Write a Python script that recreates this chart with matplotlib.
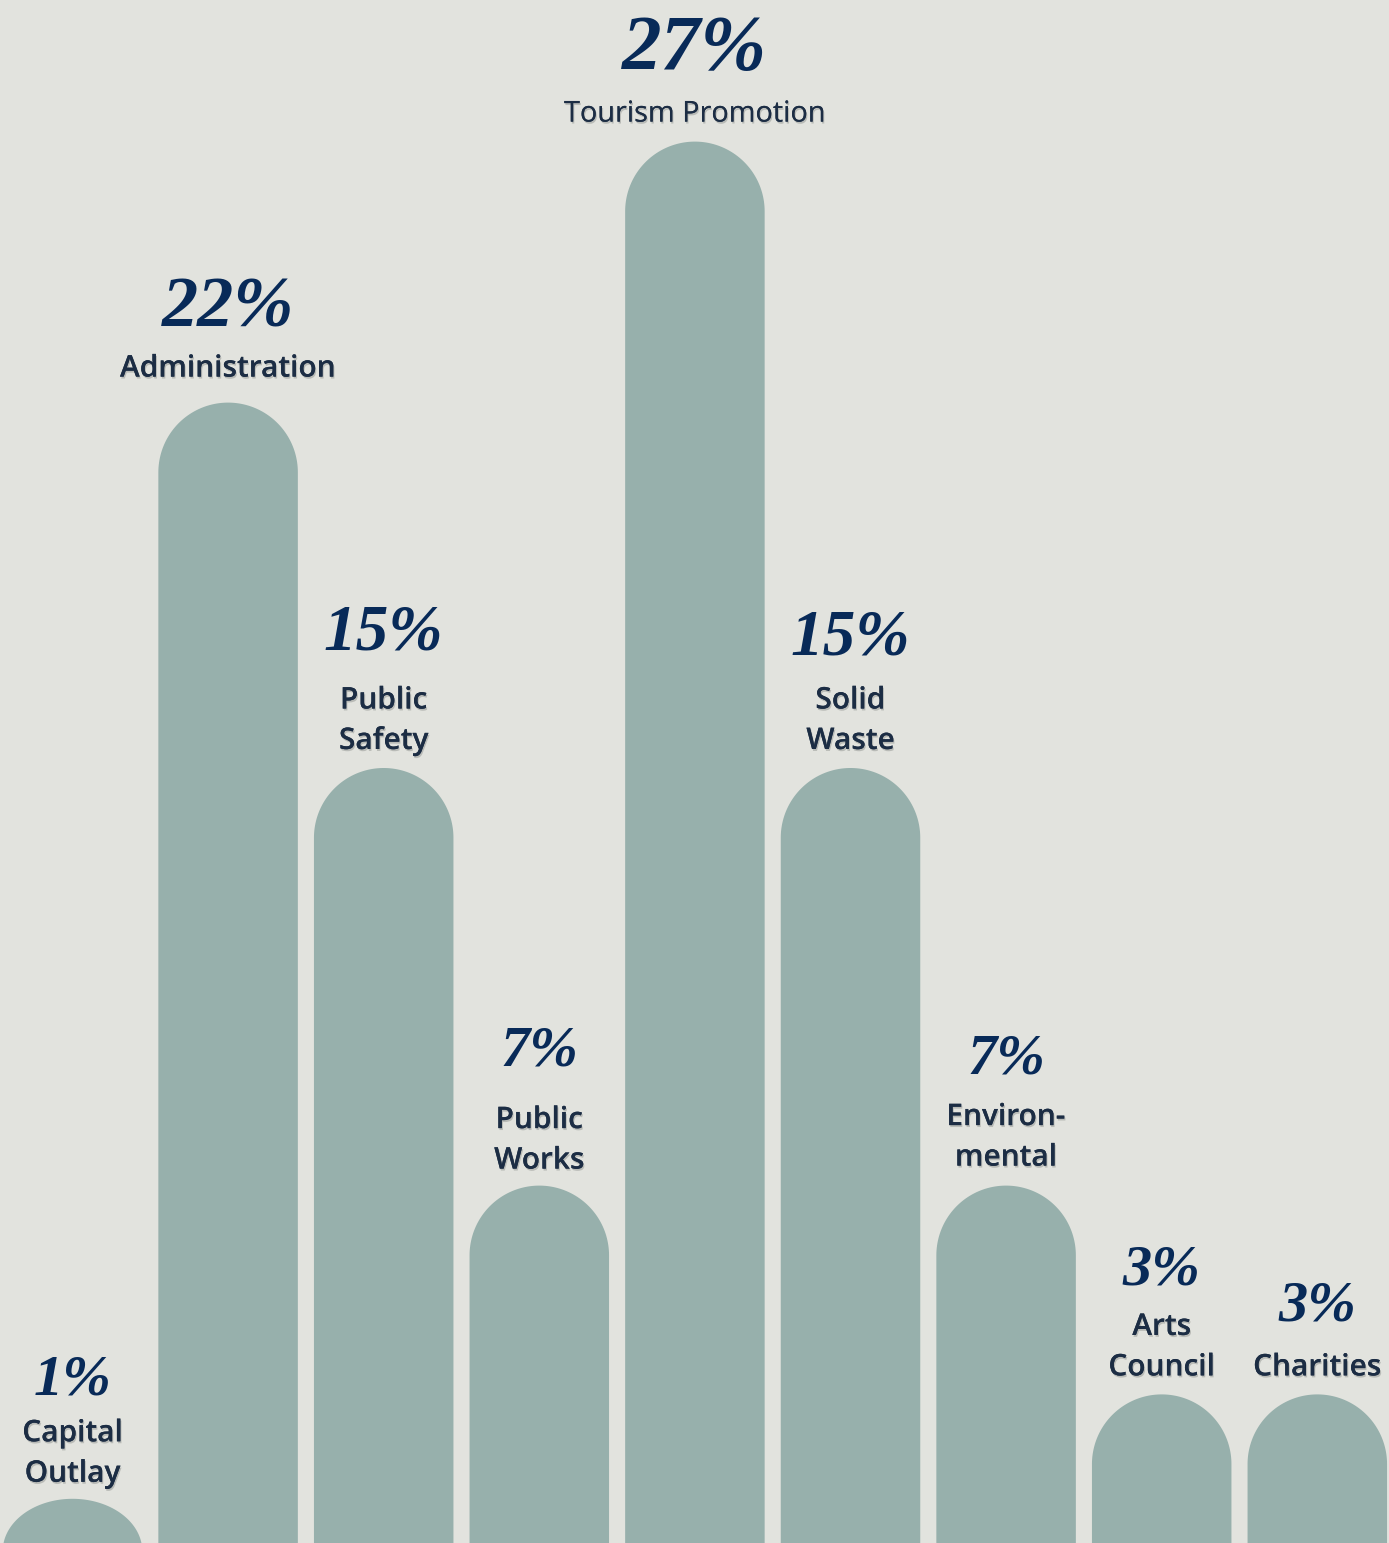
import numpy as np
import matplotlib
matplotlib.use('Agg')
import matplotlib.pyplot as plt
from matplotlib.patches import Polygon
import matplotlib.patheffects as pe

# ---------------- data ----------------
categories = ['Capital\nOutlay', 'Administration', 'Public\nSafety', 'Public\nWorks',
              'Tourism Promotion', 'Solid\nWaste', 'Environ-\nmental', 'Arts\nCouncil', 'Charities']
shares = [1, 22, 15, 7, 27, 15, 7, 3, 3]
pct_labels = [f'{v}%' for v in shares]

# ---------------- layout / style ----------------
pct_sizes = [42, 52, 47, 42, 57, 47, 42, 42, 42]        # pt
label_sizes = [21.5, 21.5, 21.5, 21.5, 20.8, 21.5, 21.5, 21.5, 21.5]
label_gap_px = [17, 26, 19, 17, 20, 19, 20, 19, 19]     # bar top -> last label baseline
pct_gap_px = [47, 50, 59, 63, 53, 54, 52, 50, 55]       # first label baseline -> pct baseline
line_gap_px = 40.5
label_weights = ['semibold', 'semibold', 'semibold', 'semibold', 'medium',
                 'semibold', 'semibold', 'semibold', 'semibold']

BG = '#E2E3DE'
BAR = '#97B0AC'
PCT_COLOR = '#082A58'
LBL_COLOR = '#1C2D44'

W_PX, H_PX = 1389, 1543
DPI = 100
PX2PT = 72.0 / DPI

fig = plt.figure(figsize=(W_PX / DPI, H_PX / DPI), dpi=DPI, facecolor=BG)
ax = fig.add_axes([0, 0, 1, 1])
ax.set_facecolor(BG)
ax.set_axis_off()

x0_px, step_px = 72.5, 155.6
base_px, unit_px = 1551.0, 52.2
ax.set_xlim(-x0_px / step_px, (W_PX - x0_px) / step_px)
ax.set_ylim((base_px - H_PX) / unit_px, base_px / unit_px)

width = 139.5 / step_px
xs = np.arange(len(shares))

p0 = ax.transData.transform((0, 0))
p1 = ax.transData.transform((1, 1))
sx, sy = p1 - p0
rx = width / 2
ry = rx * sx / sy

theta = np.linspace(np.pi, 0, 90)
for x, v in zip(xs, shares):
    rye = min(ry, v)
    top_x = x + rx * np.cos(theta)
    top_y = (v - rye) + rye * np.sin(theta)
    pts = [(x - rx, -1)] + list(zip(top_x, top_y)) + [(x + rx, -1)]
    ax.add_patch(Polygon(pts, closed=True, facecolor=BAR, edgecolor='none', zorder=2))

shadow = [pe.withSimplePatchShadow(offset=(0.8, -1.4), shadow_rgbFace='#6f7370', alpha=0.35),
          pe.Normal()]

for i, (x, v) in enumerate(zip(xs, shares)):
    lines = categories[i].split('\n')
    off = label_gap_px[i]
    for k, line in enumerate(reversed(lines)):
        ax.annotate(line, xy=(x, v), xytext=(0, (off + k * line_gap_px) * PX2PT),
                    textcoords='offset points', ha='center', va='baseline',
                    fontsize=label_sizes[i], family=['Open Sans', 'DejaVu Sans'],
                    fontweight=label_weights[i],
                    color=LBL_COLOR, path_effects=shadow, zorder=3)
    pct_off = off + (len(lines) - 1) * line_gap_px + pct_gap_px[i]
    ax.annotate(pct_labels[i], xy=(x, v), xytext=(0, pct_off * PX2PT),
                textcoords='offset points', ha='center', va='baseline',
                fontsize=pct_sizes[i], family=['Liberation Serif', 'DejaVu Serif'],
                fontweight='bold', fontstyle='italic', color=PCT_COLOR, zorder=3)

fig.savefig('out.png', dpi=DPI, facecolor=BG)
